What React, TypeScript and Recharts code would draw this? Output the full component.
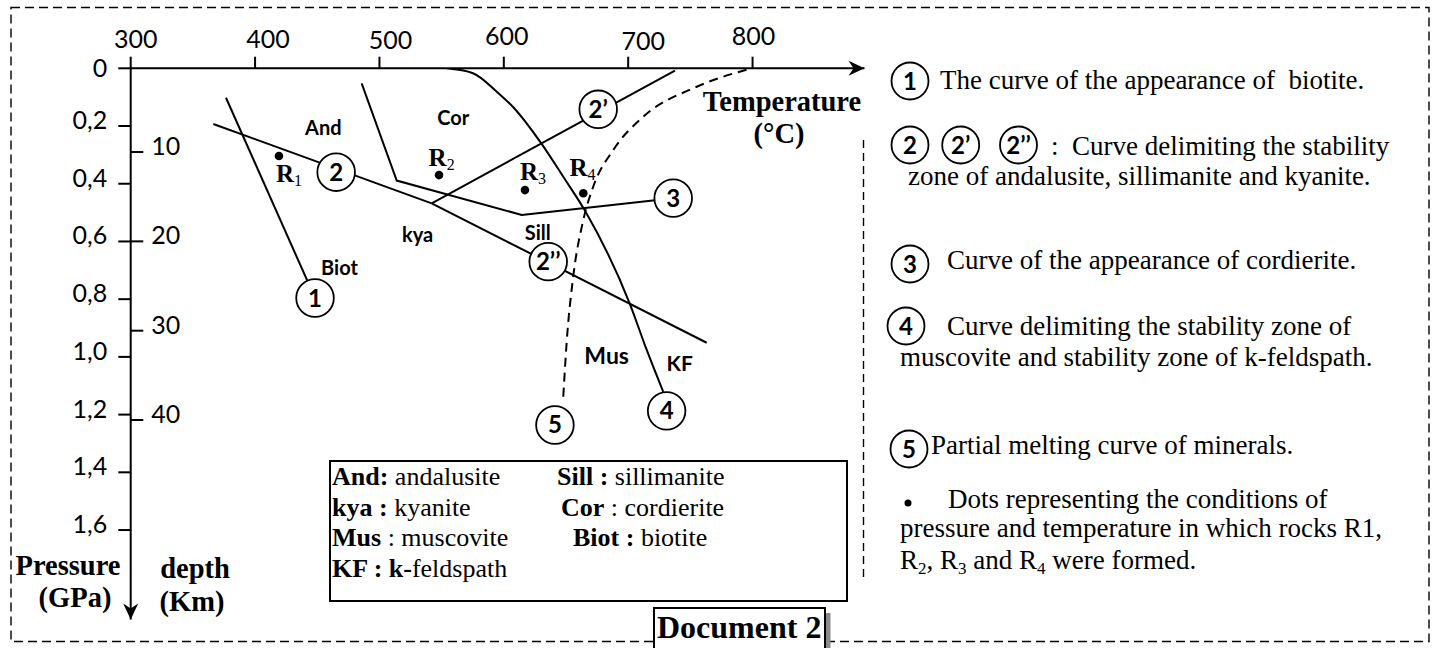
import React from "react";
import { ComposedChart, Line, Scatter, XAxis, YAxis, ReferenceDot } from "recharts";

const SANS = "Lato, 'Open Sans', sans-serif";
const SERIF = "'Liberation Serif', 'Times New Roman', serif";

// axis ticks
const tempTicks = [300, 400, 500, 600, 700, 800];
const pressureTicks = [0, 0.2, 0.4, 0.6, 0.8, 1.0, 1.2, 1.4, 1.6];
const depthTicks = [10, 20, 30, 40];

// curves: t = temperature (°C), p = pressure (GPa)
const biotiteCurve = [
  { t: 376.6, p: 0.102 },
  { t: 448.2, p: 0.796 },
];
const andKyaCurve = [
  { t: 366.4, p: 0.193 },
  { t: 542.0, p: 0.468 },
];
const andSillCurve = [
  { t: 542.0, p: 0.468 },
  { t: 737.6, p: 0.008 },
];
const sillKyaCurve = [
  { t: 542.0, p: 0.468 },
  { t: 763.1, p: 0.951 },
];
const cordieriteCurve = [
  { t: 485.7, p: 0.052 },
  { t: 513.9, p: 0.389 },
  { t: 614.4, p: 0.508 },
  { t: 736.2, p: 0.45 },
];
const muscoviteCurve = [
  { t: 554.1, p: 0.0 },
  { t: 575.2, p: 0.017 },
  { t: 594.3, p: 0.081 },
  { t: 607.6, p: 0.135 },
  { t: 630.4, p: 0.262 },
  { t: 647.8, p: 0.376 },
  { t: 665.3, p: 0.494 },
  { t: 701.4, p: 0.817 },
  { t: 714.9, p: 0.976 },
  { t: 728.2, p: 1.121 },
];
const meltingCurve = [
  { t: 647.8, p: 1.138 },
  { t: 650.5, p: 0.951 },
  { t: 655.8, p: 0.722 },
  { t: 663.9, p: 0.526 },
  { t: 671.9, p: 0.41 },
  { t: 688.0, p: 0.283 },
  { t: 712.1, p: 0.168 },
  { t: 755.1, p: 0.064 },
  { t: 799.3, p: 0.0 },
];

// numbered curve markers
const curveMarkers = [
  { t: 448.2, p: 0.796, label: "1" },
  { t: 465.2, p: 0.36, label: "2" },
  { t: 675.9, p: 0.142, label: "2’" },
  { t: 635.7, p: 0.67, label: "2’’" },
  { t: 736.2, p: 0.45, label: "3" },
  { t: 730.9, p: 1.187, label: "4" },
  { t: 641.1, p: 1.236, label: "5" },
];

// rocks R1..R4
const rocks = [
  { t: 419.2, p: 0.304, sub: "1" },
  { t: 547.9, p: 0.37, sub: "2" },
  { t: 617.0, p: 0.422, sub: "3" },
  { t: 663.9, p: 0.433, sub: "4" },
];
const rockLabels = [
  { t: 427.3, p: 0.366, sub: "1" },
  { t: 550.0, p: 0.311, sub: "2" },
  { t: 623.4, p: 0.358, sub: "3" },
  { t: 663.2, p: 0.345, sub: "4" },
];

// stability zone names
const zoneLabels = [
  { t: 454.9, p: 0.207, text: "And" },
  { t: 559.4, p: 0.172, text: "Cor" },
  { t: 530.7, p: 0.577, text: "kya" },
  { t: 627.3, p: 0.571, text: "Sill" },
  { t: 467.9, p: 0.692, text: "Biot" },
  { t: 682.7, p: 0.997, text: "Mus" },
  { t: 741.4, p: 1.021, text: "KF" },
];

const W = 1434;
const H = 648;

function XTick({ x, y, payload }: any) {
  // hand-placed labels in the original sit a bit off their ticks
  const shift: Record<number, [number, number]> = {
    300: [5, -8.4],
    400: [13, -8.4],
    500: [11, -7.7],
    600: [3, -11.7],
    700: [15, -6.7],
    800: [1, -11.7],
  };
  const [dx, dy] = shift[payload.value] ?? [0, -9];
  return (
    <text x={x + dx} y={y + dy} textAnchor="middle" fontFamily={SANS} fontSize={25} fill="#000">
      {payload.value}
    </text>
  );
}

function PressureTick({ x, y, payload }: any) {
  const v = payload.value;
  const txt = v === 0 ? "0" : v.toFixed(1).replace(".", ",");
  return (
    <text x={x - 11} y={y + (v === 0 ? 9 : 3)} textAnchor="end" fontFamily={SANS} fontSize={25} fill="#000">
      {txt}
    </text>
  );
}

function DepthTick({ x, y, payload }: any) {
  return (
    <text x={x + 8} y={y + 3} textAnchor="start" fontFamily={SANS} fontSize={25} fill="#000">
      {payload.value}
    </text>
  );
}

const MarkerShape = ({ cx, cy, payload }: any) => (
  <g>
    <circle cx={cx} cy={cy} r={18.8} fill="#fff" stroke="#000" strokeWidth={1.8} />
    <text x={cx} y={cy + 8.5} textAnchor="middle" fontFamily={SANS} fontWeight={700} fontSize={24} fill="#000">
      {payload.label}
    </text>
  </g>
);

const RockDot = ({ cx, cy }: any) => <circle cx={cx} cy={cy} r={4.3} fill="#000" />;

const RockLabel = ({ cx, cy, payload }: any) => (
  <text x={cx} y={cy + 8} textAnchor="middle" fontFamily={SERIF} fontWeight={700} fontSize={25} fill="#000">
    R
    <tspan fontSize={16} fontWeight={400} dy={4}>
      {payload.sub}
    </tspan>
  </text>
);

const ZoneLabel = ({ cx, cy, payload }: any) => {
  const sizes: Record<string, number> = { Mus: 23, KF: 21 };
  const fs = sizes[payload.text] ?? 20;
  return (
    <text x={cx} y={cy + fs * 0.36} textAnchor="middle" fontFamily={SANS} fontWeight={700} fontSize={fs} fill="#000">
      {payload.text}
    </text>
  );
};

const ArrowRight = ({ cx, cy }: any) => (
  <path d={`M${cx},${cy} L${cx - 16},${cy - 7.5} L${cx - 11},${cy} L${cx - 16},${cy + 7.5} Z`} fill="#000" />
);
const ArrowDown = ({ cx, cy }: any) => (
  <path d={`M${cx},${cy} L${cx - 7.5},${cy - 16} L${cx},${cy - 11} L${cx + 7.5},${cy - 16} Z`} fill="#000" />
);

function Circled({ x, y, label }: { x: number; y: number; label: string }) {
  return (
    <g>
      <circle cx={x} cy={y} r={18.5} fill="#fff" stroke="#000" strokeWidth={1.8} />
      <text x={x} y={y + 8.5} textAnchor="middle" fontFamily={SANS} fontWeight={700} fontSize={24}>
        {label}
      </text>
    </g>
  );
}

// one line of serif text, parts may be bold
function Serif({ x, y, size, parts }: { x: number; y: number; size: number; parts: [string, boolean][] }) {
  return (
    <text x={x} y={y} fontFamily={SERIF} fontSize={size} fill="#000" style={{ whiteSpace: "pre" }}>
      {parts.map(([s, b], i) => (
        <tspan key={i} fontFamily={SERIF} fontWeight={b ? 700 : 400}>
          {s}
        </tspan>
      ))}
    </text>
  );
}

function Overlay() {
  const ttl = { fontFamily: SERIF, fontSize: 28.5, fontWeight: 700, fill: "#000" } as const;
  return (
    <svg width={W} height={H} style={{ position: "absolute", left: 0, top: 0, pointerEvents: "none" }}>
      {/* page frame */}
      <rect x={11} y={7.5} width={1418} height={634} fill="none" stroke="#000" strokeWidth={1.4} strokeDasharray="9 5" />
      <line x1={863.5} y1={140} x2={863.5} y2={577} stroke="#000" strokeWidth={1.4} strokeDasharray="8 5" />

      {/* axis titles */}
      <text x={782} y={111} textAnchor="middle" {...ttl}>Temperature</text>
      <text x={779} y={143} textAnchor="middle" {...ttl}>(°C)</text>
      <text x={68} y={575} textAnchor="middle" {...ttl}>Pressure</text>
      <text x={75} y={607} textAnchor="middle" {...ttl}>(GPa)</text>
      <text x={195} y={578} textAnchor="middle" {...ttl}>depth</text>
      <text x={192} y={611} textAnchor="middle" {...ttl}>(Km)</text>

      {/* abbreviations box */}
      <rect x={330} y={461} width={517} height={140} fill="#fff" stroke="#000" strokeWidth={2} />
      <Serif x={332} y={485} size={26} parts={[["And:", true], [" andalusite", false]]} />
      <Serif x={557} y={485} size={26} parts={[["Sill :", true], [" sillimanite", false]]} />
      <Serif x={332} y={516} size={26} parts={[["kya :", true], [" kyanite", false]]} />
      <Serif x={561} y={516} size={26} parts={[["Cor", true], [" : cordierite", false]]} />
      <Serif x={332} y={546} size={26} parts={[["Mus", true], [" : muscovite", false]]} />
      <Serif x={573} y={546} size={26} parts={[["Biot :", true], [" biotite", false]]} />
      <Serif x={332} y={577} size={26} parts={[["KF : k-", true], ["feldspath", false]]} />

      {/* caption */}
      <rect x={654} y={608} width={171} height={50} fill="#fff" stroke="#000" strokeWidth={2} />
      <rect x={826} y={613} width={4.5} height={40} fill="#8a8a8a" />
      <text x={657} y={638} fontFamily={SERIF} fontSize={32} fontWeight={700}>Document 2</text>

      {/* key on the right */}
      <Circled x={910} y={81} label="1" />
      <Serif x={940} y={89} size={27} parts={[["The curve of the appearance of  biotite.", false]]} />

      <Circled x={910} y={145} label="2" />
      <Circled x={960.7} y={145} label="2’" />
      <Circled x={1018.5} y={145} label="2’’" />
      <Serif x={1051} y={155} size={27} parts={[[":  Curve delimiting the stability", false]]} />
      <Serif x={908} y={185} size={27} parts={[["zone of andalusite, sillimanite and kyanite.", false]]} />

      <Circled x={910} y={264} label="3" />
      <Serif x={947} y={269} size={27} parts={[["Curve of the appearance of cordierite.", false]]} />

      <Circled x={906} y={326} label="4" />
      <Serif x={947} y={335} size={27} parts={[["Curve delimiting the stability zone of", false]]} />
      <Serif x={900} y={366} size={27} parts={[["muscovite and stability zone of k-feldspath.", false]]} />

      <Circled x={909} y={449} label="5" />
      <Serif x={931} y={454} size={27} parts={[["Partial melting curve of minerals.", false]]} />

      <circle cx={908} cy={503} r={3.5} fill="#000" />
      <Serif x={948} y={508} size={27} parts={[["Dots representing the conditions of", false]]} />
      <Serif x={900} y={537} size={27} parts={[["pressure and temperature in which rocks R1,", false]]} />
      <text x={900} y={569} fontFamily={SERIF} fontSize={27} fill="#000">
        R<tspan fontSize={17} dy={5}>2</tspan>
        <tspan dy={-5}>, R</tspan>
        <tspan fontSize={17} dy={5}>3</tspan>
        <tspan dy={-5}> and R</tspan>
        <tspan fontSize={17} dy={5}>4</tspan>
        <tspan dy={-5}> were formed.</tspan>
      </text>
    </svg>
  );
}

export default function App() {
  const stroke = { stroke: "#000", strokeWidth: 2 };
  return (
    <div style={{ position: "absolute", left: 0, top: 0, width: W, height: H, background: "#fff" }}>
      <ComposedChart width={W} height={H} margin={{ top: 38.3, left: 70.7, right: 569.5, bottom: 28.5 }}>
        <XAxis
          xAxisId={0}
          type="number"
          dataKey="t"
          orientation="top"
          height={30}
          domain={[300, 890]}
          allowDataOverflow
          ticks={tempTicks}
          tickSize={11.6}
          tickMargin={0}
          axisLine={stroke}
          tickLine={stroke}
          tick={<XTick />}
        />
        <YAxis
          yAxisId={0}
          type="number"
          dataKey="p"
          width={60}
          reversed
          domain={[0, 1.91]}
          allowDataOverflow
          ticks={pressureTicks}
          interval={0}
          tickSize={12.4}
          tickMargin={0}
          axisLine={stroke}
          tickLine={stroke}
          tick={<PressureTick />}
        />
        <YAxis
          yAxisId="depth"
          type="number"
          mirror
          reversed
          domain={[0.627, 62.33]}
          allowDataOverflow
          ticks={depthTicks}
          interval={0}
          tickSize={12.6}
          tickMargin={0}
          axisLine={false}
          tickLine={stroke}
          tick={<DepthTick />}
        />

        <Line data={biotiteCurve} dataKey="p" type="linear" {...stroke} dot={false} activeDot={false} isAnimationActive={false} />
        <Line data={andKyaCurve} dataKey="p" type="linear" {...stroke} dot={false} activeDot={false} isAnimationActive={false} />
        <Line data={andSillCurve} dataKey="p" type="linear" {...stroke} dot={false} activeDot={false} isAnimationActive={false} />
        <Line data={sillKyaCurve} dataKey="p" type="linear" {...stroke} dot={false} activeDot={false} isAnimationActive={false} />
        <Line data={cordieriteCurve} dataKey="p" type="linear" {...stroke} dot={false} activeDot={false} isAnimationActive={false} />
        <Line data={muscoviteCurve} dataKey="p" type="monotone" {...stroke} dot={false} activeDot={false} isAnimationActive={false} />
        <Line
          data={meltingCurve}
          dataKey="p"
          type="monotone"
          {...stroke}
          strokeDasharray="9 6"
          dot={false}
          activeDot={false}
          isAnimationActive={false}
        />

        <Scatter data={rocks} dataKey="p" shape={RockDot} isAnimationActive={false} />
        <Scatter data={rockLabels} dataKey="p" shape={RockLabel} isAnimationActive={false} />
        <Scatter data={zoneLabels} dataKey="p" shape={ZoneLabel} isAnimationActive={false} />
        <Scatter data={curveMarkers} dataKey="p" shape={MarkerShape} isAnimationActive={false} />

        <ReferenceDot x={890} y={0} ifOverflow="visible" shape={ArrowRight} />
        <ReferenceDot x={300} y={1.91} ifOverflow="visible" shape={ArrowDown} />
      </ComposedChart>
      <Overlay />
    </div>
  );
}
